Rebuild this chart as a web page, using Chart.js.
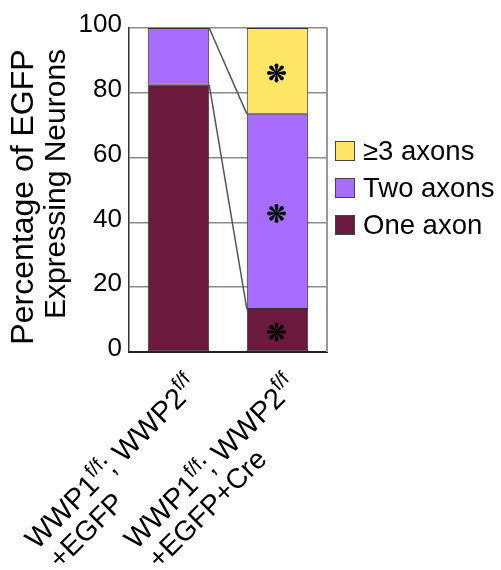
<!DOCTYPE html>
<html>
<head>
<meta charset="utf-8">
<script src="https://cdn.jsdelivr.net/npm/chart.js@4"></script>
<style>
  html, body { margin: 0; padding: 0; background: #fff; }
  #wrap { width: 501px; height: 570px; }
</style>
</head>
<body>
<div id="wrap"><canvas id="graficoAxonios"></canvas></div>
<script>
// categories: <...> marks a superscript, \n a new line
const categories = ['WWP1<f/f>; WWP2<f/f>\n+EGFP', 'WWP1<f/f>; WWP2<f/f>\n+EGFP+Cre'];
const seriesNames = ['One axon', 'Two axons', '≥3 axons'];
const oneAxon = [82.5, 13.3];
const twoAxons = [17.5, 60.2];
const threeAxons = [0, 26.5];
// which segments carry a significance asterisk
const starOne = [false, true];
const starTwo = [false, true];
const starThree = [false, true];
const yTicks = [0, 20, 40, 60, 80, 100];
const yTitle = ['Percentage of EGFP', 'Expressing Neurons'];

const colors = ['#6b1a3d', '#a86cff', '#ffe566'];
const stars = [starOne, starTwo, starThree];
const FONT = '"Liberation Sans", Arial, Helvetica, sans-serif';

function drawStar(ctx, x, y, r) {
    ctx.save();
    ctx.translate(x, y);
    ctx.fillStyle = '#000';
    const tip = r * 0.21;
    for (let k = 0; k < 8; k++) {
        ctx.save();
        ctx.rotate(k * Math.PI / 4);
        ctx.beginPath();
        ctx.moveTo(-r * 0.03, 0);
        ctx.lineTo(-tip, -(r - tip));
        ctx.arc(0, -(r - tip), tip, Math.PI, 0);
        ctx.lineTo(r * 0.03, 0);
        ctx.closePath();
        ctx.fill();
        ctx.restore();
    }
    ctx.beginPath();
    ctx.arc(0, 0, r * 0.14, 0, Math.PI * 2);
    ctx.fill();
    ctx.restore();
}

function richParts(line) {
    return line.split(/<([^>]*)>/).map((t, i) => ({ t: t, sup: i % 2 === 1 })).filter(p => p.t);
}

function partsWidth(ctx, parts, size, supSize) {
    let w = 0;
    parts.forEach(p => {
        ctx.font = (p.sup ? supSize : size) + 'px ' + FONT;
        w += ctx.measureText(p.t).width;
    });
    return w;
}

function drawParts(ctx, parts, x, y, size, supSize) {
    parts.forEach(p => {
        ctx.font = (p.sup ? supSize : size) + 'px ' + FONT;
        ctx.fillText(p.t, x, p.sup ? y - size * 0.4 : y);
        x += ctx.measureText(p.t).width;
    });
}

const extras = {
    id: 'extras',
    afterDatasetsDraw(chart) {
        const ctx = chart.ctx;
        const area = chart.chartArea;
        ctx.save();

        // right border of the plot
        ctx.strokeStyle = '#999';
        ctx.lineWidth = 2;
        ctx.beginPath();
        ctx.moveTo(area.right, area.top);
        ctx.lineTo(area.right, area.bottom);
        ctx.stroke();

        // connector lines between segment tops of neighbouring bars
        ctx.strokeStyle = '#555';
        ctx.lineWidth = 1.5;
        [0, 1].forEach(d => {
            const els = chart.getDatasetMeta(d).data;
            for (let i = 0; i < els.length - 1; i++) {
                const a = els[i], b = els[i + 1];
                ctx.beginPath();
                ctx.moveTo(a.x + a.width / 2, a.y);
                ctx.lineTo(b.x - b.width / 2, b.y);
                ctx.stroke();
            }
        });

        // asterisks
        stars.forEach((flags, d) => {
            chart.getDatasetMeta(d).data.forEach((el, i) => {
                if (flags[i]) drawStar(ctx, el.x - 1, (el.y + el.base) / 2 + 2, 9.5);
            });
        });

        // legend (top entry is the top segment)
        ctx.textBaseline = 'middle';
        ctx.textAlign = 'left';
        ctx.font = '27.5px ' + FONT;
        const order = [2, 1, 0];
        order.forEach((d, row) => {
            const cy = 151 + row * 37;
            ctx.fillStyle = colors[d];
            ctx.fillRect(335, cy - 10, 20, 20);
            ctx.strokeStyle = '#444';
            ctx.lineWidth = 1;
            ctx.strokeRect(335.5, cy - 9.5, 19, 19);
            ctx.fillStyle = '#000';
            ctx.fillText(seriesNames[d], 363, cy + 1);
        });

        // y axis title, two rotated lines
        ctx.save();
        ctx.rotate(-Math.PI / 2);
        ctx.textAlign = 'center';
        ctx.textBaseline = 'alphabetic';
        ctx.font = '32px ' + FONT;
        ctx.fillText(yTitle[0], -197, 33);
        ctx.font = '30px ' + FONT;
        ctx.fillText(yTitle[1], -184, 65);
        ctx.restore();

        // x category labels, rotated 45 degrees with superscripts
        const xs = chart.scales.x;
        categories.forEach((cat, i) => {
            const lines = cat.split('\n').map(richParts);
            const cx = xs.getPixelForValue(i);
            ctx.save();
            ctx.translate(cx + 21, area.bottom + 36);
            ctx.rotate(-Math.PI / 4);
            ctx.textAlign = 'left';
            ctx.textBaseline = 'alphabetic';
            ctx.fillStyle = '#000';
            const w1 = partsWidth(ctx, lines[0], 29, 20);
            drawParts(ctx, lines[0], -w1, 0, 29, 20);
            drawParts(ctx, lines[1], -w1 + 3, 30, 28, 20);
            ctx.restore();
        });

        ctx.restore();
    }
};

const ctx = document.getElementById('graficoAxonios').getContext('2d');

new Chart(ctx, {
    type: 'bar',
    data: {
        labels: categories.map(c => c.replace(/[<>]/g, '').replace('\n', ' ')),
        datasets: [
            { label: seriesNames[0], data: oneAxon, backgroundColor: colors[0] },
            { label: seriesNames[1], data: twoAxons, backgroundColor: colors[1] },
            { label: seriesNames[2], data: threeAxons, backgroundColor: colors[2] }
        ]
    },
    options: {
        responsive: true,
        maintainAspectRatio: false,
        animation: false,
        layout: { padding: { top: 28, right: 174, left: 0, bottom: 0 } },
        datasets: {
            bar: {
                barPercentage: 0.62,
                categoryPercentage: 1,
                borderColor: '#333',
                borderWidth: 1,
                borderSkipped: false
            }
        },
        plugins: {
            legend: { display: false },
            tooltip: { enabled: false }
        },
        scales: {
            x: {
                stacked: true,
                grid: { display: false },
                border: { color: '#222', width: 2 },
                ticks: { display: false },
                afterFit: s => { s.height = 218; }
            },
            y: {
                stacked: true,
                min: 0,
                max: 100,
                afterBuildTicks: s => { s.ticks = yTicks.map(v => ({ value: v })); },
                ticks: {
                    color: '#000',
                    padding: 7,
                    labelOffset: -3,
                    font: { family: FONT, size: 26 }
                },
                grid: { color: '#8c8c8c', lineWidth: 1.5, drawTicks: false },
                border: { color: '#333', width: 1.5 },
                afterFit: s => { s.width = 129; }
            }
        }
    },
    plugins: [extras]
});
</script>
</body>
</html>
